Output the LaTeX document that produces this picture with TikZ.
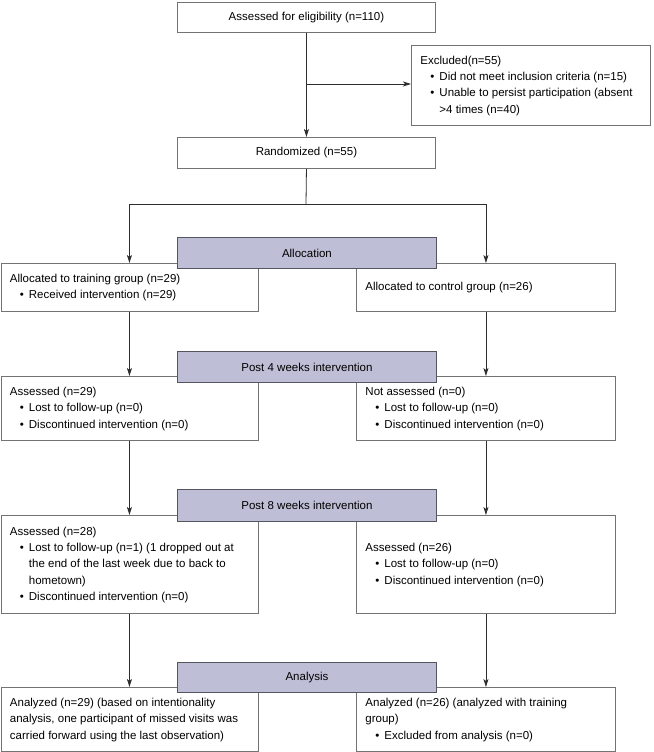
\documentclass[tikz,border=0pt]{standalone}
\usepackage{fontspec}
\setmainfont{Liberation Sans}
\usetikzlibrary{arrows.meta}
\definecolor{hdr}{RGB}{190,190,214}
\definecolor{bline}{RGB}{115,115,115}
\definecolor{hline}{RGB}{85,85,95}
\definecolor{aline}{RGB}{45,45,45}
\newcommand{\bl}[1]{\hspace*{10pt}\makebox[9pt][l]{•}#1}
\newcommand{\ct}[1]{\hspace*{19pt}#1}
\newcommand{\bxt}[2]{\makebox[#1][l]{\begin{tabular}{@{}l@{}}#2\end{tabular}}}
\begin{document}
\begin{tikzpicture}[x=1pt,y=-1pt,
  box/.style 2 args={draw=bline,line width=0.9pt,rectangle,anchor=north west,
    inner xsep=9pt,inner ysep=0pt,minimum width=#1pt,minimum height=#2pt,
    font=\fontsize{11.5}{16.3}\selectfont},
  cbox/.style 2 args={box={#1}{#2},align=center},
  hbox/.style 2 args={box={#1}{#2},draw=hline,fill=hdr,align=center},
  conn/.style={draw=aline,line width=0.8pt},
  arr/.style={conn,-{Stealth[length=8pt,width=5pt,inset=2pt]}}
]
\useasboundingbox (0,0) rectangle (653,752);

% top part
\node[cbox={258}{30}] (top) at (177,2) {Assessed for eligibility (n=110)};
\node[box={239}{80}] (excl) at (411,45) {\bxt{221pt}{Excluded(n=55)\\
  \bl{Did not meet inclusion criteria (n=15)}\\
  \bl{Unable to persist participation (absent}\\
  \ct{>4 times (n=40)}}};
\node[cbox={258}{31}] (rand) at (177,137) {Randomized (n=55)};

% allocation
\node[box={257}{48}] (al1) at (0.5,263) {\bxt{239pt}{Allocated to training group (n=29)\\
  \bl{Received intervention (n=29)}}};
\node[box={259}{48}] (al2) at (356,263) {\bxt{241pt}{Allocated to control group (n=26)}};
\node[hbox={259}{31}] (hal) at (177,237) {Allocation};

% post 4 weeks
\node[box={257}{64}] (f1) at (0.5,376) {\bxt{239pt}{Assessed (n=29)\\
  \bl{Lost to follow-up (n=0)}\\
  \bl{Discontinued intervention (n=0)}}};
\node[box={259}{64}] (f2) at (356,376) {\bxt{241pt}{Not assessed (n=0)\\
  \bl{Lost to follow-up (n=0)}\\
  \bl{Discontinued intervention (n=0)}}};
\node[hbox={259}{31}] (h4) at (177,351) {Post 4 weeks intervention};

% post 8 weeks
\node[box={257}{98}] (e1) at (0.5,515) {\bxt{239pt}{Assessed (n=28)\\
  \bl{Lost to follow-up (n=1) (1 dropped out at}\\
  \ct{the end of the last week due to back to}\\
  \ct{hometown)}\\
  \bl{Discontinued intervention (n=0)}}};
\node[box={259}{98}] (e2) at (356,515) {\bxt{241pt}{Assessed (n=26)\\
  \bl{Lost to follow-up (n=0)}\\
  \bl{Discontinued intervention (n=0)}}};
\node[hbox={259}{32}] (h8) at (177,489) {Post 8 weeks intervention};

% analysis
\node[box={257}{64}] (an1) at (0.5,687) {\bxt{239pt}{Analyzed (n=29) (based on intentionality\\
  analysis, one participant of missed visits was\\
  carried forward using the last observation)}};
\node[box={259}{64}] (an2) at (356,687) {\bxt{241pt}{Analyzed (n=26) (analyzed with training\\
  group)\\
  \bl{Excluded from analysis (n=0)}}};
\node[hbox={259}{30}] (han) at (177,662) {Analysis};

% connectors
\draw[arr] (top) -- (rand);
\coordinate (ej) at (306,84);
\draw[arr] (ej) -- (ej -| excl.west);
\coordinate (sp) at (306,204);
\draw[conn] (rand.south) -- (sp);
\draw[arr] (sp) -| (al1.north);
\draw[arr] (sp) -| (al2.north);
\draw[arr] (al1) -- (f1);
\draw[arr] (al2) -- (f2);
\draw[arr] (f1) -- (e1);
\draw[arr] (f2) -- (e2);
\draw[arr] (e1) -- (an1);
\draw[arr] (e2) -- (an2);
\end{tikzpicture}
\end{document}
